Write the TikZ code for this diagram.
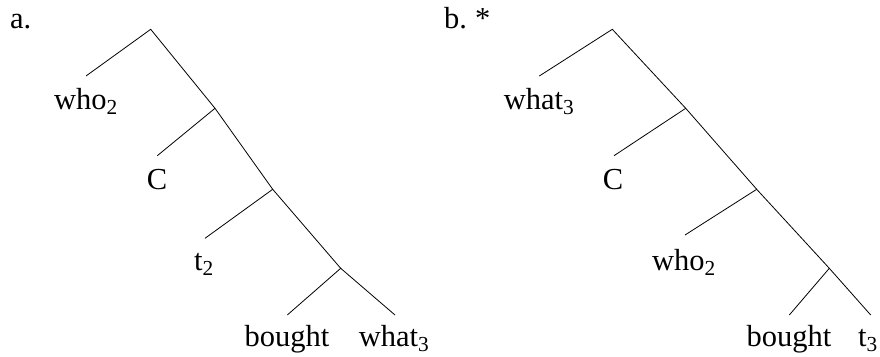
\documentclass[tikz,border=0pt]{standalone}
\usepackage{fontspec}
\setmainfont{Liberation Serif}
\begin{document}
\begin{tikzpicture}[x=1pt,y=-1pt,
  branch/.style={draw=black,line width=0.8pt},
  leaf/.style={anchor=base,inner sep=0pt,font=\fontsize{30.5}{36}\selectfont}]
\useasboundingbox (0,0) rectangle (880,356);
% ---------- tree a ----------
\node[leaf,anchor=base west] (la) at (10,28) {a.};
\coordinate (a0) at (150.7,29.3);
\coordinate (a1) at (215,108.3);
\coordinate (a2) at (272.7,189.3);
\coordinate (a3) at (340.7,268.3);
\coordinate (aw) at (86,76);
\coordinate (ac) at (157.3,155.7);
\coordinate (at) at (205,238.3);
\coordinate (ab) at (287.3,315);
\coordinate (awh) at (395,315);
\node[leaf] (who) at (86,109) {who\textsubscript{2}};
\node[leaf] (c) at (157,189) {C};
\node[leaf] (t2) at (204,270) {t\textsubscript{2}};
\node[leaf] (bought) at (287,346) {bought};
\node[leaf] (what) at (394,346) {what\textsubscript{3}};
\draw[branch] (aw) -- (a0) -- (a1) -- (a2) -- (a3) -- (awh);
\draw[branch] (a1) -- (ac);
\draw[branch] (a2) -- (at);
\draw[branch] (a3) -- (ab);
% ---------- tree b ----------
\node[leaf,anchor=base west] (lb) at (444,28) {b.\hspace{8pt}*};
\coordinate (b0) at (612.3,29.3);
\coordinate (b1) at (685.7,108.3);
\coordinate (b2) at (756.7,189.3);
\coordinate (b3) at (829.3,268.3);
\coordinate (bw) at (539.3,76);
\coordinate (bc) at (614,155.7);
\coordinate (bwho) at (685,235);
\coordinate (bb) at (789.3,315);
\coordinate (bt) at (870.7,315);
\node[leaf] (whatb) at (539,109) {what\textsubscript{3}};
\node[leaf] (cb) at (613,189) {C};
\node[leaf] (whob) at (684,270) {who\textsubscript{2}};
\node[leaf] (boughtb) at (789,346) {bought};
\node[leaf] (t3) at (868,346) {t\textsubscript{3}};
\draw[branch] (bw) -- (b0) -- (b1) -- (b2) -- (b3) -- (bt);
\draw[branch] (b1) -- (bc);
\draw[branch] (b2) -- (bwho);
\draw[branch] (b3) -- (bb);
\end{tikzpicture}
\end{document}
